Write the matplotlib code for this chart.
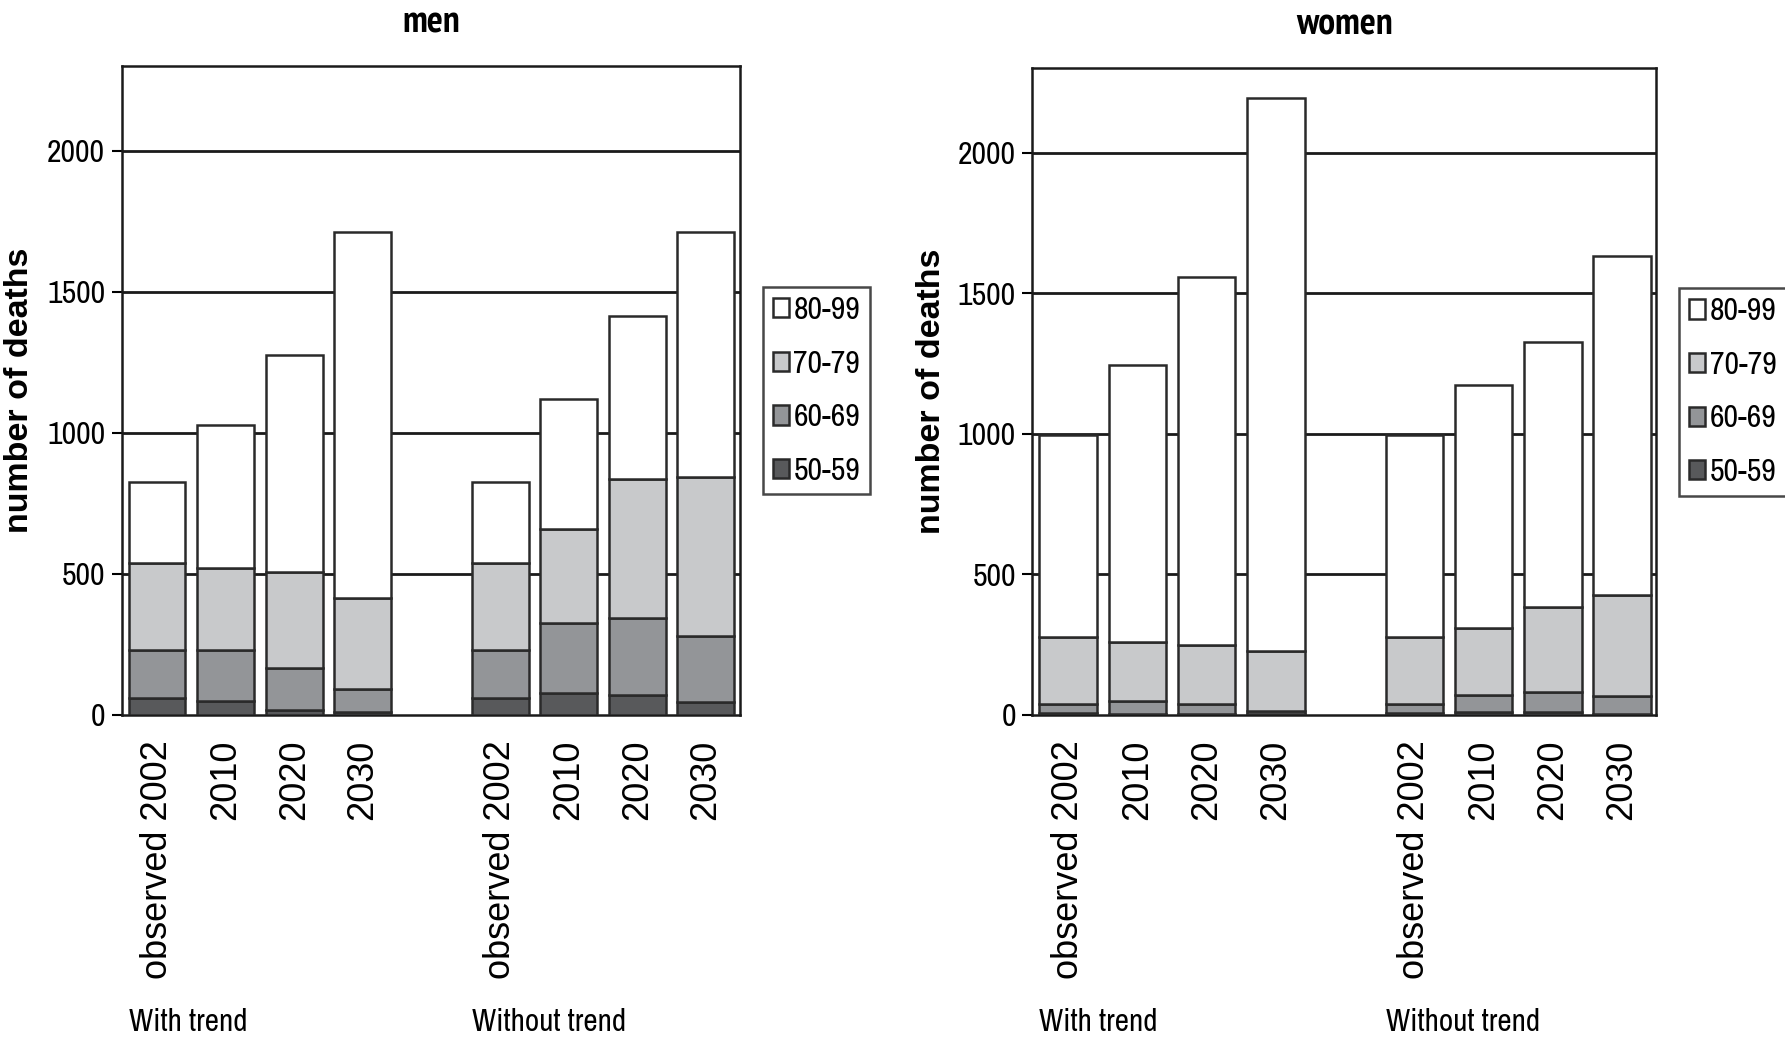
import matplotlib
matplotlib.use("Agg")
import matplotlib.pyplot as plt
from matplotlib.patches import Patch
import numpy as np
import logging
logging.getLogger("matplotlib.font_manager").setLevel(logging.ERROR)

# ---- data ----
periods = ["observed 2002", "2010", "2020", "2030"]
scenarios = ["With trend", "Without trend"]
age_groups = ["50-59", "60-69", "70-79", "80-99"]

# men, with trend (segment values per age group)
men_with_50_59 = [61, 49, 18, 9]
men_with_60_69 = [168, 180, 149, 82]
men_with_70_79 = [311, 291, 340, 323]
men_with_80_99 = [285, 509, 769, 1298]
# men, without trend
men_without_50_59 = [61, 77, 70, 46]
men_without_60_69 = [168, 248, 273, 233]
men_without_70_79 = [311, 334, 494, 566]
men_without_80_99 = [285, 460, 578, 867]

# women, with trend
women_with_50_59 = [8, 3, 3, 2]
women_with_60_69 = [30, 45, 36, 13]
women_with_70_79 = [241, 212, 210, 212]
women_with_80_99 = [717, 985, 1310, 1967]
# women, without trend
women_without_50_59 = [8, 10, 10, 4]
women_without_60_69 = [30, 60, 70, 64]
women_without_70_79 = [241, 241, 305, 357]
women_without_80_99 = [717, 863, 940, 1206]

colors = ["#58595b", "#939598", "#c8c9cb", "#ffffff"]
edge = "#2a2a2a"

narrow = ["Liberation Sans Narrow", "Archivo Narrow", "PT Sans Narrow", "DejaVu Sans"]
narrow_bold = ["PT Sans Narrow", "Archivo Narrow", "Liberation Sans"]
regular = ["Liberation Sans", "Arimo", "DejaVu Sans"]

fig = plt.figure(figsize=(17.85, 10.43), dpi=100)

panels = [
    ("men", [0.0682, 0.3145, 0.3464, 0.6222], 20,
     [men_with_50_59 + men_without_50_59, men_with_60_69 + men_without_60_69,
      men_with_70_79 + men_without_70_79, men_with_80_99 + men_without_80_99]),
    ("women", [0.5784, 0.3145, 0.3496, 0.6200], 931,
     [women_with_50_59 + women_without_50_59, women_with_60_69 + women_without_60_69,
      women_with_70_79 + women_without_70_79, women_with_80_99 + women_without_80_99]),
]

positions = np.array([0, 1, 2, 3, 5, 6, 7, 8])
width = 0.83

for title, rect, ylab_x, stacks in panels:
    ax = fig.add_axes(rect)
    bottom = np.zeros(len(positions))
    for vals, col in zip(stacks, colors):
        vals = np.array(vals, dtype=float)
        ax.bar(positions, vals, width=width, bottom=bottom, color=col,
               edgecolor=edge, linewidth=1.8, zorder=3)
        bottom += vals
    ax.set_xlim(-0.514, 8.497)
    ax.set_ylim(0, 2300)
    ax.set_yticks([0, 500, 1000, 1500, 2000])
    for yv in [500, 1000, 1500, 2000]:
        ax.axhline(yv, color="#1a1a1a", lw=2.0, zorder=1)
    for sp in ax.spines.values():
        sp.set_color("#1a1a1a")
        sp.set_linewidth(1.8)
    ax.tick_params(axis="y", direction="out", length=7, width=1.5, pad=5)
    ax.tick_params(axis="x", length=0, pad=18)
    ax.set_xticks(positions)
    ax.set_xticklabels(periods + periods, rotation=90, family=regular,
                       fontsize=26, va="top", ha="center")
    for lab in ax.get_yticklabels():
        lab.set_family(narrow)
        lab.set_fontsize(23)
    ax.set_title(title, family=narrow_bold, fontweight="bold", fontsize=27, pad=24)
    fig.text(ylab_x / 1785, 0.5 * (rect[1] * 2 + rect[3]), "number of deaths",
             rotation=90, ha="center", va="center", family=regular,
             fontweight="bold", fontsize=24.5)
    # scenario labels under the groups
    for i, sc in enumerate(scenarios):
        ax.annotate(sc, xy=(positions[4 * i] - width / 2, 0.02),
                    xycoords=("data", "figure fraction"), ha="left",
                    va="center", family=narrow, fontsize=22.5)
    handles = [Patch(facecolor=c, edgecolor=edge, linewidth=1.8, label=a)
               for a, c in zip(age_groups, colors)][::-1]
    axw_px = rect[2] * 1785
    leg = ax.legend(handles=handles, loc="center left",
                    bbox_to_anchor=(1 + 23 / axw_px, 0.5), borderaxespad=0,
                    frameon=True, fancybox=False, handlelength=0.5,
                    handleheight=0.55, handletextpad=0.15, labelspacing=0.8,
                    borderpad=0.3, prop={"family": narrow, "size": 23})
    leg.get_frame().set_edgecolor("#1a1a1a")
    leg.get_frame().set_linewidth(1.8)

fig.savefig("out.png", dpi=100, facecolor="white")
